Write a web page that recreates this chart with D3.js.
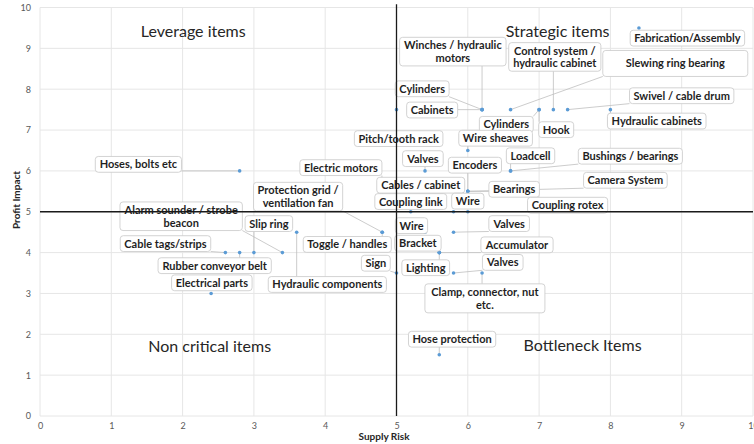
<!DOCTYPE html>
<html><head><meta charset="utf-8">
<script src="https://cdn.jsdelivr.net/npm/d3@7"></script>
<style>
html,body{margin:0;padding:0;background:#fff;}
svg{display:block;}
</style></head>
<body><svg id="chart" width="754" height="444"></svg>
<script>
const names = [
 "Fabrication/Assembly","Winches / hydraulic\nmotors","Control system /\nhydraulic cabinet","Slewing ring bearing",
 "Cylinders","Cabinets","Swivel / cable drum","Cylinders","Hook","Hydraulic cabinets",
 "Pitch/tooth rack","Wire sheaves","Valves","Encoders","Loadcell","Bushings / bearings",
 "Electric motors","Cables / cabinet","Bearings","Camera System","Coupling link","Wire","Coupling rotex",
 "Hoses, bolts etc","Protection grid /\nventilation fan","Alarm sounder / strobe\nbeacon","Slip ring",
 "Cable tags/strips","Rubber conveyor belt","Electrical parts","Hydraulic components","Toggle / handles",
 "Sign","Wire","Valves","Bracket","Accumulator","Lighting","Valves","Clamp, connector, nut\netc.","Hose protection"
];
const supplyRisk = [
 8.4,6.2,7.2,6.6,
 6.2,6.2,7.4,7.0,7.0,8.0,
 5.0,6.0,5.4,6.0,6.6,6.6,
 4.8,4.8,6.0,6.0,5.2,5.8,6.0,
 2.8,4.8,3.4,3.0,
 2.6,2.8,2.4,3.6,4.8,
 5.0,5.4,5.8,5.6,5.6,5.6,5.8,6.2,5.6
];
const profitImpact = [
 9.5,7.5,7.5,7.5,
 7.5,7.5,7.5,7.5,7.5,7.5,
 7.5,6.5,6.0,5.5,6.0,6.0,
 5.5,5.5,5.5,5.5,5.0,5.0,5.0,
 6.0,4.5,4.0,4.0,
 4.0,4.0,3.0,4.5,4.5,
 3.5,4.5,4.5,4.0,4.0,4.0,3.5,3.5,1.5
];
// label box centres, in chart units
const labelX = [
 9.08,5.79,7.22,8.91,
 5.36,5.50,9.00,6.54,7.24,8.65,
 5.03,6.39,5.37,6.10,6.88,8.28,
 4.22,5.34,6.65,8.21,5.20,6.00,7.40,
 1.38,3.62,1.98,3.21,
 1.76,2.45,2.41,4.03,4.31,
 4.71,5.21,6.58,5.30,6.69,5.41,6.49,6.24,5.78
];
const labelY = [
 9.25,8.92,8.79,8.63,
 8.01,7.49,7.84,7.14,7.01,7.22,
 6.79,6.80,6.30,6.14,6.37,6.36,
 6.08,5.65,5.55,5.77,5.25,5.26,5.16,
 6.16,5.37,4.89,4.71,
 4.22,3.68,3.26,3.22,4.20,
 3.74,4.66,4.71,4.23,4.19,3.63,3.76,2.88,1.88
];
const quadrantNames = ["Leverage items","Strategic items","Non critical items","Bottleneck Items"];
const quadrantX = [2.15,7.26,2.38,7.61];
const quadrantY = [9.41,9.42,1.70,1.72];
const xTicks = [0,1,2,3,4,5,6,7,8,9,10];
const yTicks = [0,1,2,3,4,5,6,7,8,9,10];
const xTitle = "Supply Risk", yTitle = "Profit Impact";

const svg = d3.select("#chart");
const x = d3.scaleLinear().domain([0,10]).range([40,753]);
const y = d3.scaleLinear().domain([0,10]).range([416,7.5]);
const FONT = "Lato, 'Open Sans', sans-serif";

// grid
const g = svg.append("g");
g.selectAll(".vg").data(xTicks).join("line")
 .attr("x1",d=>x(d)).attr("x2",d=>x(d)).attr("y1",y(0)).attr("y2",y(10))
 .attr("stroke","#e6e6e6").attr("stroke-width",1);
g.selectAll(".hg").data(yTicks).join("line")
 .attr("x1",x(0)).attr("x2",x(10)).attr("y1",d=>y(d)).attr("y2",d=>y(d))
 .attr("stroke","#e6e6e6").attr("stroke-width",1);

// axes
const xAxis = d3.axisBottom(x).tickValues(xTicks).tickSize(0).tickPadding(7).tickFormat(d3.format("d"));
const yAxis = d3.axisLeft(y).tickValues(yTicks).tickSize(0).tickPadding(9).tickFormat(d3.format("d"));
const gx = svg.append("g").attr("transform",`translate(0,${y(0)})`).call(xAxis);
const gy = svg.append("g").attr("transform",`translate(${x(0)},0)`).call(yAxis);
[gx,gy].forEach(a=>{a.select(".domain").remove();
 a.selectAll("text").attr("fill","#595959").style("font-family",FONT).style("font-size","9px");});

svg.append("text").attr("x",384).attr("y",440).attr("text-anchor","middle")
 .style("font-family",FONT).style("font-size","10px").style("font-weight","bold").attr("fill","#262626").text(xTitle);
svg.append("text").attr("transform","translate(20,200) rotate(-90)").attr("text-anchor","middle")
 .style("font-family",FONT).style("font-size","10px").style("font-weight","bold").attr("fill","#262626").text(yTitle);

// quadrant titles
svg.selectAll(".qt").data(quadrantNames).join("text")
 .attr("x",(d,i)=>x(quadrantX[i])).attr("y",(d,i)=>y(quadrantY[i])+5.5)
 .attr("text-anchor","middle").style("font-family",FONT).style("font-size","16px")
 .attr("fill","#262626").text(d=>d);

// points
const pts = names.map((n,i)=>({n, sx:supplyRisk[i], py:profitImpact[i], lx:labelX[i], ly:labelY[i]}));

const leaderG = svg.append("g");
svg.append("g").selectAll("circle").data(pts).join("circle")
 .attr("cx",d=>x(d.sx)).attr("cy",d=>y(d.py)).attr("r",1.8).attr("fill","#5b9bd5");

const labG = svg.append("g");
pts.forEach(d=>{
  const lines = d.n.split("\n");
  const lg = labG.append("g");
  const rect = lg.append("rect");
  const cx = x(d.lx), cy = y(d.ly);
  const lh = 12.8;
  const t = lg.append("text").attr("text-anchor","middle")
    .style("font-family",FONT).style("font-size","11px").style("font-weight","bold").attr("fill","#1f1f1f");
  lines.forEach((l,k)=>{
    t.append("tspan").attr("x",cx).attr("y",cy + (k-(lines.length-1)/2)*lh + 4).text(l);
  });
  const bb = t.node().getBBox();
  let w = bb.width + 8, h = lines.length*lh + 3;
  if (d.n === "Slewing ring bearing") { w = 145; h = 26; }
  if (d.n.startsWith("Clamp")) { w = 120; h = 29; }
  const x0 = cx - w/2, y0 = cy - h/2;
  rect.attr("x",x0).attr("y",y0).attr("width",w).attr("height",h).attr("rx",3)
   .attr("fill","#fff").attr("stroke","#c8c8c8").attr("stroke-width",0.8);
  const px = x(d.sx), py = y(d.py);
  const ex = Math.max(x0, Math.min(px, x0+w)), ey = Math.max(y0, Math.min(py, y0+h));
  if (Math.hypot(px-ex, py-ey) > 3) {
    leaderG.append("line").attr("x1",ex).attr("y1",ey).attr("x2",px).attr("y2",py)
      .attr("stroke","#bfbfbf").attr("stroke-width",0.8);
  }
});

// quadrant dividing lines (on top)
const qLines = [[[5,0],[5,10.08]],[[0,5],[10,5]]];
svg.append("g").selectAll("line").data(qLines).join("line")
 .attr("x1",d=>x(d[0][0])).attr("y1",d=>y(d[0][1])).attr("x2",d=>x(d[1][0])).attr("y2",d=>y(d[1][1]))
 .attr("stroke","#1a1a1a").attr("stroke-width",1.3);
</script>
</body></html>
